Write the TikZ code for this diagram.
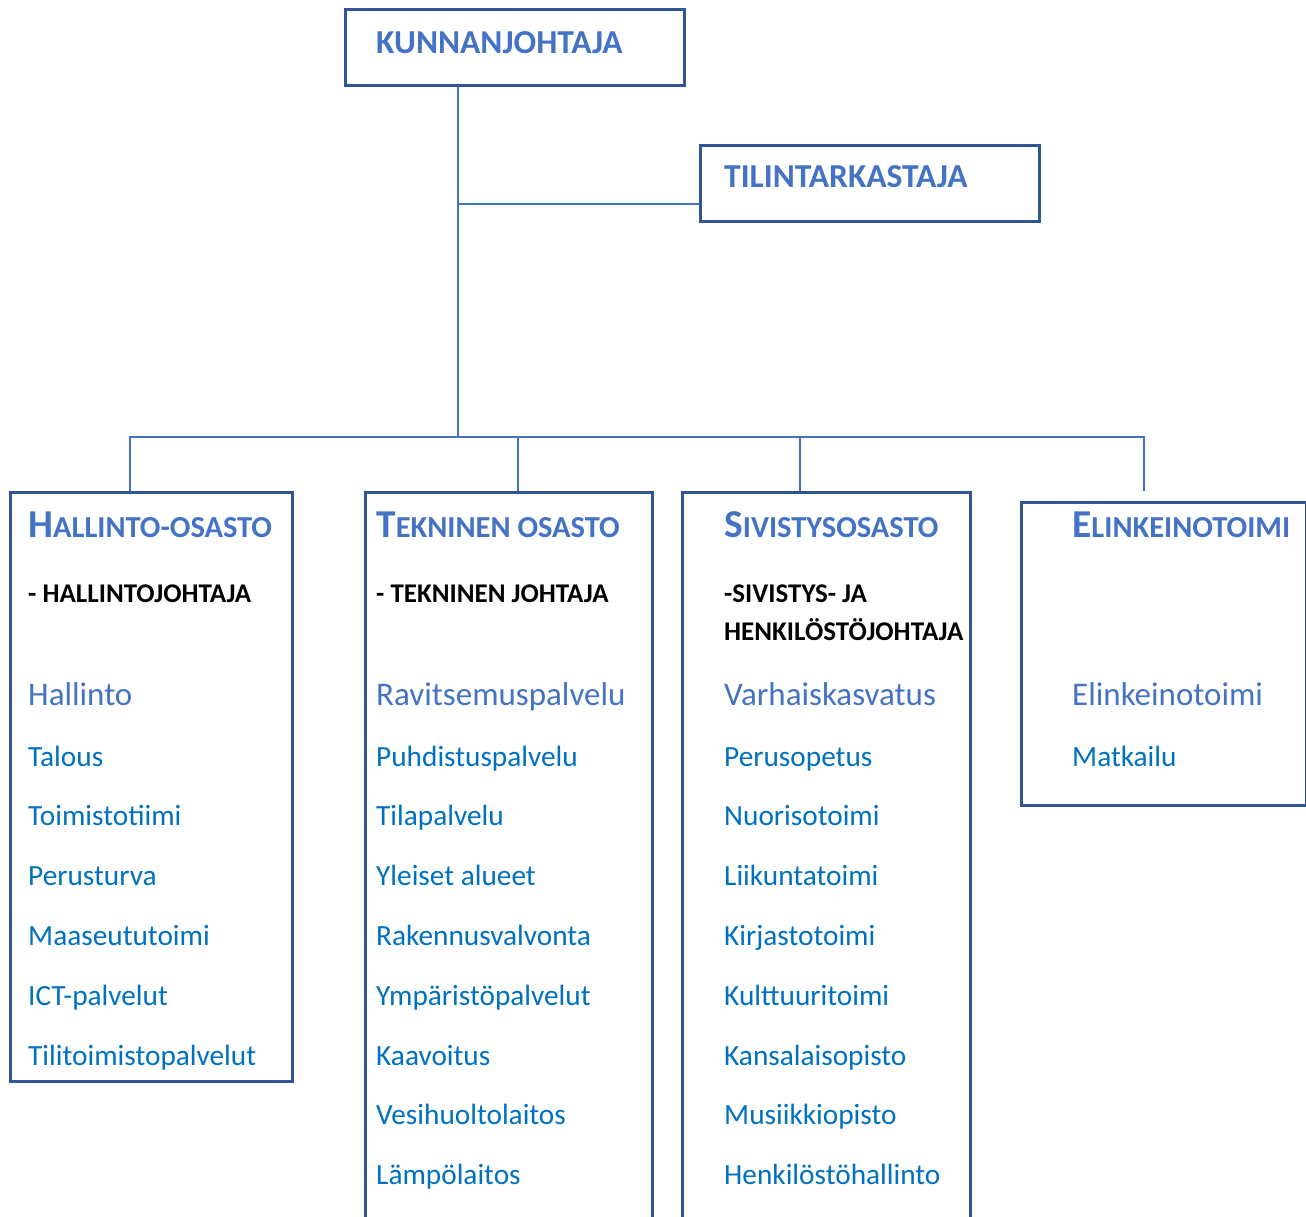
\documentclass[tikz,border=0pt]{standalone}
\usepackage{fontspec}
\setmainfont{Carlito}
\usetikzlibrary{positioning}
\definecolor{boxblue}{HTML}{2F5597}
\definecolor{headblue}{HTML}{4472C4}
\definecolor{itemblue}{HTML}{0070C0}
\newcommand{\fakesc}[2]{{\fontsize{39.5}{42}\selectfont #1}{\fontsize{30.5}{33}\selectfont #2}}

\tikzset{
    box/.style={draw=boxblue, line width=2.8pt, anchor=north west, inner sep=0pt},
    link/.style={draw=headblue, line width=1.3pt},
    top/.style={anchor=base west, inner sep=0pt, text=headblue, font=\fontsize{33.5}{36}\selectfont\bfseries},
    head/.style={anchor=base west, inner sep=0pt, text=headblue, font=\bfseries},
    boss/.style={anchor=base west, inner sep=0pt, font=\fontsize{27}{30}\selectfont\bfseries},
    first/.style={anchor=base west, inner sep=0pt, text=headblue, font=\fontsize{33}{36}\selectfont},
    item/.style={anchor=base west, inner sep=0pt, text=itemblue, font=\fontsize{29.3}{32}\selectfont},
}

\begin{document}
\begin{tikzpicture}[x=1pt, y=-1pt]
        \useasboundingbox (0,0) rectangle (1306,1216);
        \clip (0,0) rectangle (1306,1216);

        % johto
        \node[box, minimum width=339, minimum height=76](kj) at (344,8)   {};
        \node[box, minimum width=339, minimum height=76](tt) at (699,144) {};
        \node[top](kjt) at (376,53)  {KUNNANJOHTAJA};
        \node[top](ttt) at (724,187) {TILINTARKASTAJA};

        % osastot
        \node[box, minimum width=282, minimum height=589](ho) at (9,491)    {};
        \node[box, minimum width=287, minimum height=760](to) at (364,491)  {};
        \node[box, minimum width=288, minimum height=760](so) at (681,491)  {};
        \node[box, minimum width=285, minimum height=303](eo) at (1020,501) {};

        \node[head](hoh) at (28,537)   {\fakesc{H}{ALLINTO-OSASTO}};
        \node[head](toh) at (376,537)  {\fakesc{T}{EKNINEN OSASTO}};
        \node[head](soh) at (724,537)  {\fakesc{S}{IVISTYSOSASTO}};
        \node[head](eoh) at (1072,537) {\fakesc{E}{LINKEINOTOIMI}};

        \node[boss](hob)  at (28,602)  {- HALLINTOJOHTAJA};
        \node[boss](tob)  at (376,602) {- TEKNINEN JOHTAJA};
        \node[boss](sob)  at (724,602) {-SIVISTYS- JA};
        \node[boss](sob2) at (724,640) {HENKILÖSTÖJOHTAJA};

        \node[first](ho0) at (28,705)   {Hallinto};
        \node[first](to0) at (376,705)  {Ravitsemuspalvelu};
        \node[first](so0) at (724,705)  {Varhaiskasvatus};
        \node[first](eo0) at (1072,705) {Elinkeinotoimi};

        \foreach \t [count=\i] in {Talous, Toimistotiimi, Perusturva,
                Maaseututoimi, ICT-palvelut, Tilitoimistopalvelut}
            \node[item](ho\i) at (28,{766+59.8*(\i-1)}) {\t};
        \foreach \t [count=\i] in {Puhdistuspalvelu, Tilapalvelu, Yleiset alueet,
                Rakennusvalvonta, Ympäristöpalvelut, Kaavoitus, Vesihuoltolaitos,
                Lämpölaitos}
            \node[item](to\i) at (376,{766+59.8*(\i-1)}) {\t};
        \foreach \t [count=\i] in {Perusopetus, Nuorisotoimi, Liikuntatoimi,
                Kirjastotoimi, Kulttuuritoimi, Kansalaisopisto, Musiikkiopisto,
                Henkilöstöhallinto}
            \node[item](so\i) at (724,{766+59.8*(\i-1)}) {\t};
        \node[item](eo1) at (1072,766) {Matkailu};

        % yhteydet
        \coordinate (hub) at (458,437);
        \coordinate (tap) at (458,204);
        \coordinate (d1) at (130,491);
        \coordinate (d2) at (518,491);
        \coordinate (d3) at (800,491);
        \coordinate (d4) at (1144,491);
        \draw[link] (kj.south -| hub) -- (hub);
        \draw[link] (tap) -- (tap -| tt.west);
        \draw[link] (d1) -- (d1 |- hub) -- (d4 |- hub) -- (d4);
        \draw[link] (d2 |- hub) -- (d2);
        \draw[link] (d3 |- hub) -- (d3);
    \end{tikzpicture}
\end{document}
